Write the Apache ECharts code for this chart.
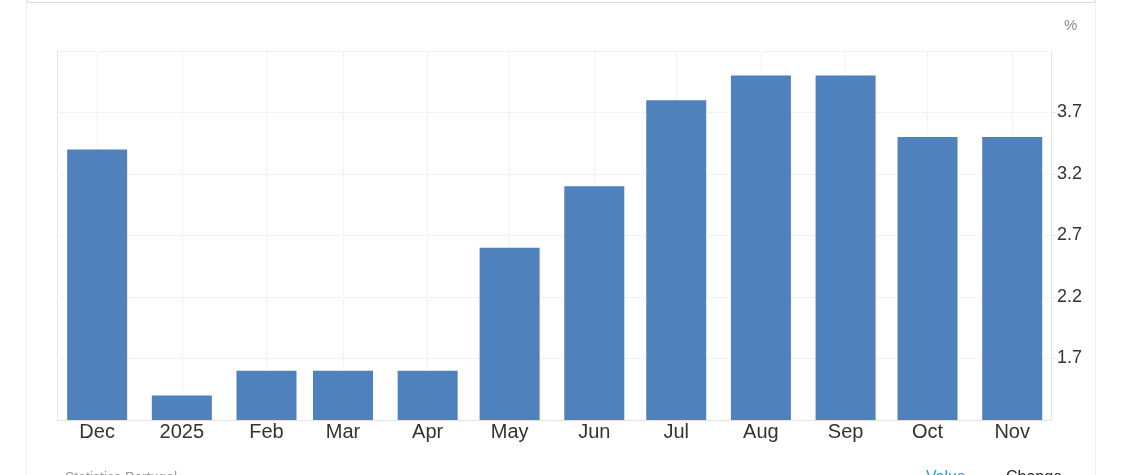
<!DOCTYPE html>
<html>
<head>
<meta charset="utf-8">
<script src="https://cdn.jsdelivr.net/npm/echarts@6/dist/echarts.min.js"></script>
<style>
html,body{margin:0;padding:0;background:#fff;}
#card{position:absolute;left:26px;top:-1px;width:1068px;height:480px;border-left:1px solid #eeeeee;border-right:1px solid #eeeeee;}
#topbox{position:absolute;left:27px;top:-9px;width:1066px;height:11px;border:1px solid #dcdcdc;border-top:none;}
#chart{position:absolute;left:0;top:0;width:1126px;height:475px;}
</style>
</head>
<body>
<div id="card"></div>
<div id="topbox"></div>
<div id="chart"></div>
<script>
// ---- data ----
const months = ['2024-12-01','2025-01-01','2025-02-01','2025-03-01','2025-04-01','2025-05-01',
                '2025-06-01','2025-07-01','2025-08-01','2025-09-01','2025-10-01','2025-11-01'];
const values = [3.4, 1.4, 1.6, 1.6, 1.6, 2.6, 3.1, 3.8, 4.0, 4.0, 3.5, 3.5];
const yTickLabels = [1.7, 2.2, 2.7, 3.2, 3.7];
const monthNames = ['Jan','Feb','Mar','Apr','May','Jun','Jul','Aug','Sep','Oct','Nov','Dec'];
const unitLabel = '%';
const sourceLabel = 'Statistics Portugal';
const toggleLabels = ['Value', 'Change'];

function toUTC(s){ const p = s.split('-').map(Number); return Date.UTC(p[0], p[1]-1, p[2]); }
const seriesData = months.map((m,i) => [toUTC(m), values[i]]);
const DAY = 86400000;

// layout
const GRID_LEFT = 57, GRID_RIGHT = 75, CHART_W = 1126;
const BAR_W = 60;
const axisLen = CHART_W - GRID_LEFT - GRID_RIGHT;
// desired visible extent (padding around first / last month)
const wantMin = toUTC(months[0]) - 14.7*DAY;
const wantMax = toUTC(months[months.length-1]) + 14.2*DAY;
// ECharts widens a time axis holding bars by the bar overflow; pre-shrink to compensate
const span = wantMax - wantMin;
const half = span * (BAR_W/2) / axisLen;
const setMin = wantMin + half;
const setMax = wantMax - half;

const chart = echarts.init(document.getElementById('chart'), null, {renderer:'canvas'});
chart.setOption({
  useUTC: true,
  animation: false,
  grid: {left: GRID_LEFT, right: GRID_RIGHT, top: 51, bottom: 55, containLabel: false},
  xAxis: {
    type: 'time',
    min: setMin,
    max: setMax,
    splitNumber: 12,
    minInterval: 28*DAY,
    maxInterval: 31*DAY,
    axisLine: {show: true, lineStyle: {color: '#e3e3e3', width: 1}},
    axisTick: {show: false},
    splitLine: {show: true, lineStyle: {color: '#e6e6e6', type: 'dotted', width: 1}},
    axisLabel: {
      color: '#333', fontSize: 20, fontFamily: 'Liberation Sans, Arial, sans-serif', margin: 2,
      hideOverlap: false,
      formatter: function(v){ const d = new Date(v); return d.getUTCMonth()===0 ? String(d.getUTCFullYear()) : monthNames[d.getUTCMonth()]; }
    }
  },
  yAxis: [{
    type: 'value', position: 'right',
    min: 1.2, max: 4.2, interval: 0.5,
    axisLine: {show: true, lineStyle: {color: '#e6e6e6'}},
    axisTick: {show: true, length: 5, lineStyle: {color: '#e6e6e6'}},
    splitLine: {show: true, lineStyle: {color: '#e6e6e6', type: 'dotted', width: 1}},
    axisLabel: {
      color: '#333', fontSize: 18, fontFamily: 'Liberation Sans, Arial, sans-serif', margin: 6,
      showMinLabel: false, showMaxLabel: false,
      formatter: function(v){ const r = Math.round(v*10)/10; return yTickLabels.indexOf(r) >= 0 ? r.toFixed(1) : ''; }
    }
  },{
    type: 'value', position: 'left',
    min: 1.2, max: 4.2, interval: 0.5,
    axisLine: {show: true, lineStyle: {color: '#e6e6e6'}},
    axisTick: {show: false}, axisLabel: {show: false}, splitLine: {show: false}
  }],
  series: [{
    type: 'bar', yAxisIndex: 0,
    data: seriesData,
    barWidth: BAR_W,
    itemStyle: {color: '#4f81bd'}
  }],
  graphic: [
    {type:'text', left: 1064, top: 18, style:{text: unitLabel, fill:'#8a8a8a', fontSize: 15, fontFamily:'Liberation Sans, Arial, sans-serif'}},
    {type:'text', left: 65, top: 471, style:{text: sourceLabel, fill:'#999', fontSize: 14, fontFamily:'Liberation Sans, Arial, sans-serif'}},
    {type:'text', left: 926, top: 470, style:{text: toggleLabels[0], fill:'#2b98f0', fontSize: 16, fontFamily:'Liberation Sans, Arial, sans-serif'}},
    {type:'text', left: 1006, top: 470, style:{text: toggleLabels[1], fill:'#222', fontSize: 16, fontFamily:'Liberation Sans, Arial, sans-serif'}}
  ]
});
</script>
</body>
</html>
